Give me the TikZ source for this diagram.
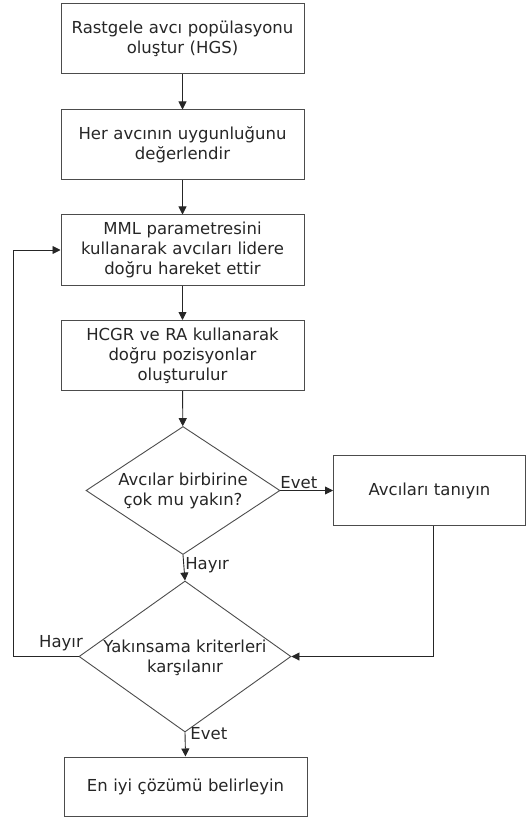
\documentclass[tikz,border=0pt]{standalone}
\usepackage{fontspec}
\setmainfont{DejaVu Sans}
\usetikzlibrary{shapes.geometric,arrows.meta}
\begin{document}
\begin{tikzpicture}[x=1pt,y=-1pt,
  every node/.style={font=\fontsize{16.5}{20}\selectfont, text=black!85},
  stepbox/.style={draw=black!70, line width=1pt, minimum width=243pt, minimum height=70pt, inner sep=0pt, align=center, text width=240pt},
  choice/.style={draw=black!70, line width=0.9pt, diamond, aspect=1.52, inner sep=0pt},
  flow/.style={draw=black!85, line width=0.9pt, -{Triangle[length=8pt,width=8pt]}},
  lbl/.style={font=\fontsize{16.5}{18}\selectfont, inner sep=1pt}]
\useasboundingbox (0,0) rectangle (531,818);
\node[stepbox] (b1) at (182.5,39) {Rastgele avcı popülasyonu\\oluştur (HGS)};
\node[stepbox] (b2) at (182.5,145) {Her avcının uygunluğunu\\değerlendir};
\node[stepbox] (b3) at (182.5,250) {MML parametresini\\kullanarak avcıları lidere\\doğru hareket ettir};
\node[stepbox] (b4) at (182.5,355.5) {HCGR ve RA kullanarak\\doğru pozisyonlar\\oluşturulur};
% decision shapes have a fixed size; their text is set on top of them
\node[choice, minimum width=194pt, minimum height=128pt] (d1) at (183,490.5) {};
\node[align=center] (d1text) at (d1.center) {Avcılar birbirine\\çok mu yakın?};
\node[stepbox, minimum width=192pt, text width=185pt] (b5) at (429.5,490.5) {Avcıları tanıyın};
\node[choice, minimum width=212pt, minimum height=151pt] (d2) at (185,656.5) {};
\node[align=center] (d2text) at (185,657.5) {Yakınsama kriterleri\\karşılanır};
\node[stepbox, minimum height=59pt] (b6) at (185.5,786.5) {En iyi çözümü belirleyin};

\draw[flow] (b1) -- (b2);
\draw[flow] (b2) -- (b3);
\draw[flow] (b3) -- (b4);
\draw[flow] (b4) -- (d1);
\draw[flow] (d1.east) -- (b5.west) node[lbl, pos=0.35, above] {Evet};
\draw[flow] (d1.south) -- (d2.north) node[lbl, pos=0.4, right=0pt] {Hayır};
\draw[flow] (b5.south -| 433,0) |- (d2.east);
\coordinate (back) at (13,656.5);
\draw[flow] (d2.west) -- (back) |- (b3.west);
\node[lbl] (nolbl) at (61,643) {Hayır};
\draw[flow] (d2.south) -- (b6.north) node[lbl, pos=0.05, right=4pt] {Evet};
\end{tikzpicture}
\end{document}
